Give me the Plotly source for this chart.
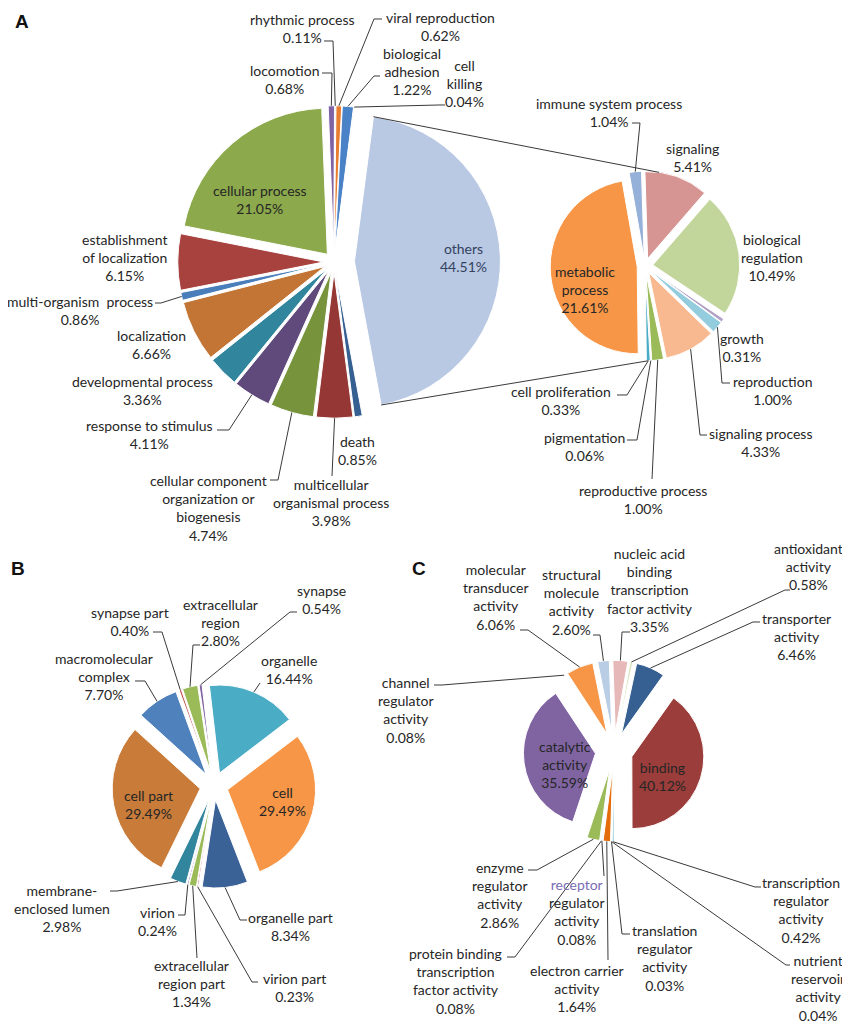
import math
import plotly.graph_objects as go

# page is drawn with the browser's default 8px body margin, so the figure is
# sized to fit the window and layout positions are given in page pixels
OFF = 8
W, H = 842, 1019
FONT = "Lato"
TXT = "#262626"
LINE = "#3a3a3a"

# ---------------- Panel A: biological process (main pie) ----------------
a_labels = ["others", "death", "multicellular organismal process",
            "cellular component organization or biogenesis", "response to stimulus",
            "developmental process", "localization", "multi-organism process",
            "establishment of localization", "cellular process", "locomotion",
            "rhythmic process", "viral reproduction", "biological adhesion", "cell killing"]
a_names = ["others", "death", "multicellular<br>organismal process",
           "cellular component<br>organization or<br>biogenesis", "response to stimulus",
           "developmental process", "localization", "multi-organism  process",
           "establishment<br>of localization", "cellular process", "locomotion",
           "rhythmic process", "viral reproduction", "biological<br>adhesion", "cell<br>killing"]
a_values = [44.51, 0.85, 3.98, 4.74, 4.11, 3.36, 6.66, 0.86, 6.15, 21.05, 0.68, 0.11, 0.62, 1.22, 0.04]
a_colors = ["#B9C9E3", "#376092", "#953735", "#77933C", "#604A7B", "#31859C", "#C27534",
            "#4A7EBB", "#A8423F", "#8CAA4B", "#7F62A4", "#4BACC6", "#E87D2F", "#4A82C7", "#C0504D"]

# ---------------- Panel A: breakdown of "others" ----------------
a2_labels = ["immune system process", "signaling", "biological regulation", "growth",
             "reproduction", "signaling process", "reproductive process", "pigmentation",
             "cell proliferation", "metabolic process"]
a2_names = ["immune system process", "signaling", "biological<br>regulation", "growth",
            "reproduction", "signaling process", "reproductive process", "pigmentation",
            "cell proliferation", "metabolic<br>process"]
a2_values = [1.04, 5.41, 10.49, 0.31, 1.00, 4.33, 1.00, 0.06, 0.33, 21.61]
a2_colors = ["#95B0D9", "#D69593", "#C2D69C", "#B3A2C7", "#93CDDD", "#F9B990",
             "#9BBB59", "#A5A5A5", "#4BACC6", "#F79646"]

# ---------------- Panel B: cellular component ----------------
b_labels = ["organelle", "cell", "organelle part", "virion part", "extracellular region part",
            "virion", "membrane-enclosed lumen", "cell part", "macromolecular complex",
            "synapse part", "extracellular region", "synapse"]
b_names = ["organelle", "cell", "organelle part", "virion part", "extracellular<br>region part",
           "virion", "membrane-<br>enclosed lumen", "cell part", "macromolecular<br>complex",
           "synapse part", "extracellular<br>region", "synapse"]
b_values = [16.44, 29.49, 8.34, 0.23, 1.34, 0.24, 2.98, 29.49, 7.70, 0.40, 2.80, 0.54]
b_colors = ["#4BACC6", "#F79646", "#3B6297", "#C0504D", "#9BBB59", "#8064A2", "#31859C",
            "#C97C3A", "#4F81BD", "#C0504D", "#9BBB59", "#8064A2"]

# ---------------- Panel C: molecular function ----------------
c_labels = ["nucleic acid binding transcription factor activity", "antioxidant activity",
            "transporter activity", "binding", "transcription regulator activity",
            "nutrient reservoir activity", "translation regulator activity",
            "electron carrier activity", "receptor regulator activity",
            "protein binding transcription factor activity", "enzyme regulator activity",
            "catalytic activity", "channel regulator activity", "molecular transducer activity",
            "structural molecule activity"]
c_names = ["nucleic acid<br>binding<br>transcription<br>factor activity", "antioxidant<br>activity",
           "transporter<br>activity", "binding", "transcription<br>regulator<br>activity",
           "nutrient<br>reservoir<br>activity", "translation<br>regulator<br>activity",
           "electron carrier<br>activity",
           "<span style='color:#7B6DB5'>receptor</span><br>regulator<br>activity",
           "protein binding<br>transcription<br>factor activity", "enzyme<br>regulator<br>activity",
           "catalytic<br>activity", "channel<br>regulator<br>activity", "molecular<br>transducer<br>activity",
           "structural<br>molecule<br>activity"]
c_values = [3.35, 0.58, 6.46, 40.12, 0.42, 0.04, 0.03, 1.64, 0.08, 0.08, 2.86, 35.59, 0.08, 6.06, 2.60]
c_colors = ["#E6B9B8", "#D7E4BD", "#376092", "#9B3D3A", "#4BACC6", "#C0504D", "#9BBB59",
            "#E46C0A", "#8064A2", "#4F81BD", "#9BBB59", "#8064A2", "#B7DEE8", "#F79646", "#B9CDE5"]

# ---------------- geometry / style settings (layout) ----------------
PIES = {
    "A":  dict(cx=334, cy=262, R=146, rot=7.5, pulls=[0.14] + [0.07] * 14),
    "A2": dict(cx=645, cy=266, R=87, rot=-10, pulls=[0.09] * 10),
    "B":  dict(cx=214, cy=786, R=88, rot=-6.6, pulls=[0.16] * 12),
    "C":  dict(cx=614, cy=751, R=72, rot=-2, pulls=[0.26] * 15),
}

# label placement: index -> (text x, text y, attach point or None, elbow dx)
A_LAB = {0: (463, 257, None, 0), 1: (357, 450, None, 0), 2: (331, 503, (332, 476), 0),
         3: (208, 508, (270, 480), 8), 4: (149, 434, (217, 430), 12), 5: (142, 390, None, 0),
         6: (151, 344, None, 0), 7: (80, 310, (155, 303), 6), 8: (125, 257, None, 0),
         9: (260, 200, None, 0), 10: (284, 80, (322, 73), 10), 11: (302, 28, (324, 41), 9),
         12: (440, 27, (382, 19), -8), 13: (412, 72, (380, 76), -6), 14: (464, 83, (445, 105), -6)}
A2_LAB = {0: (609, 112, (632, 123), 8), 1: (692, 157, None, 0), 2: (772, 257, None, 0),
          3: (742, 347, None, 0), 4: (773, 390, (730, 383), -8), 5: (760, 442, (707, 435), -7),
          6: (643, 500, (652, 479), 0), 7: (584, 446, (627, 440), 10), 8: (561, 400, (617, 395), 10),
          9: (585, 289, None, 0)}
B_LAB = {0: (289, 669, (260, 683), 0), 1: (282, 801, None, 0), 2: (290, 926, (247, 920), -7),
         3: (294, 987, (258, 982), -6), 4: (191, 983, (197, 958), 0), 5: (157, 921, (178, 915), 7),
         6: (62, 908, (110, 891), 7), 7: (148, 804, None, 0), 8: (104, 676, (135, 681), 10),
         9: (130, 621, (153, 632), 9), 10: (220, 622, (200, 645), -7), 11: (321, 599, (297, 612), -7)}
C_LAB = {0: (650, 590, (630, 632), -8), 1: (808, 566, (790, 590), -5), 2: (796, 636, (760, 622), -7),
         3: (662, 776, None, 0), 4: (801, 910, (761, 887), -6), 5: (818, 988, (790, 965), -4),
         6: (664, 958, (630, 934), -8), 7: (577, 988, (608, 960), 0), 8: (576, 912, (604, 876), 0),
         9: (455, 981, (507, 957), 8), 10: (500, 895, (528, 870), 9), 11: (565, 764, None, 0),
         12: (405, 710, (434, 685), 8), 13: (496, 597, (520, 630), 8), 14: (571, 602, (593, 635), 7)}

INSIDE_COLOR = {("A", 0): "#34425F"}


def px(x, y):
    return (x - OFF) / W, 1 - (y - OFF) / H


def geom(values, p):
    total = sum(values)
    ang = p["rot"]
    out = []
    for v, pl in zip(values, p["pulls"]):
        span = v / total * 360.0
        a0, a1 = ang, ang + span
        mid = math.radians((a0 + a1) / 2)
        out.append((a0, a1, pl * p["R"] * math.sin(mid), -pl * p["R"] * math.cos(mid)))
        ang = a1
    return out


def arc_point(p, g, frac=0.5):
    a0, a1, ox, oy = g
    a = math.radians(a0 + frac * (a1 - a0))
    return p["cx"] + ox + p["R"] * math.sin(a), p["cy"] + oy - p["R"] * math.cos(a)


def domain(p):
    half = p["R"] * (1 + max(p["pulls"]))
    x0, y1 = px(p["cx"] - half, p["cy"] - half)
    x1, y0 = px(p["cx"] + half, p["cy"] + half)
    return dict(x=[x0, x1], y=[y0, y1])


fig = go.Figure()
annotations = []
shapes = []


def add_pie(labels, names, values, colors, key, labspec):
    p = PIES[key]
    fig.add_trace(go.Pie(
        labels=labels, values=values, sort=False, direction="clockwise",
        rotation=p["rot"], pull=p["pulls"], textinfo="none", showlegend=False,
        marker=dict(colors=colors, line=dict(color="white", width=1)),
        domain=domain(p), hoverinfo="label+value"))
    g = geom(values, p)
    for i, (tx, ty, att, edx) in labspec.items():
        x, y = px(tx, ty)
        annotations.append(dict(
            x=x, y=y, xref="paper", yref="paper", showarrow=False,
            text=f"{names[i]}<br>{values[i]:.2f}%", align="center",
            xanchor="center", yanchor="middle",
            font=dict(family=FONT, size=14, color=INSIDE_COLOR.get((key, i), TXT))))
        if att is not None:
            ax, ay = arc_point(p, g[i])
            pts = [(ax, ay)]
            if edx:
                pts.append((att[0] + edx, att[1]))
            pts.append(att)
            path = "M " + " L ".join(f"{px(a, b)[0]:.5f},{px(a, b)[1]:.5f}" for a, b in pts)
            shapes.append(dict(type="path", path=path, xref="paper", yref="paper",
                               line=dict(color=LINE, width=1)))
    return g


gA = add_pie(a_labels, a_names, a_values, a_colors, "A", A_LAB)
gA2 = add_pie(a2_labels, a2_names, a2_values, a2_colors, "A2", A2_LAB)
add_pie(b_labels, b_names, b_values, b_colors, "B", B_LAB)
add_pie(c_labels, c_names, c_values, c_colors, "C", C_LAB)

# pie-of-pie connector lines ("others" -> breakdown pie)
pA, pA2 = PIES["A"], PIES["A2"]
top0 = arc_point(pA, gA[0], 0.0)
bot0 = arc_point(pA, gA[0], 1.0)
top1 = arc_point(pA2, gA2[1], 0.22)
bot1 = arc_point(pA2, gA2[8], 0.5)
for s, e in [(top0, top1), (bot0, bot1)]:
    x0, y0 = px(*s)
    x1, y1 = px(*e)
    shapes.append(dict(type="line", x0=x0, y0=y0, x1=x1, y1=y1, xref="paper", yref="paper",
                       line=dict(color=LINE, width=1)))

for letter, (lx, ly) in {"A": (22, 21), "B": (18, 568), "C": (419, 568)}.items():
    x, y = px(lx, ly)
    annotations.append(dict(x=x, y=y, xref="paper", yref="paper", showarrow=False,
                            text=f"<b>{letter}</b>", xanchor="center", yanchor="middle",
                            font=dict(family="Arial", size=19, color="#111111")))

fig.update_layout(width=W, height=H, autosize=False,
                  margin=dict(l=0, r=0, t=0, b=0),
                  paper_bgcolor="white", plot_bgcolor="white",
                  annotations=annotations, shapes=shapes)
fig.write_html("out.html")
